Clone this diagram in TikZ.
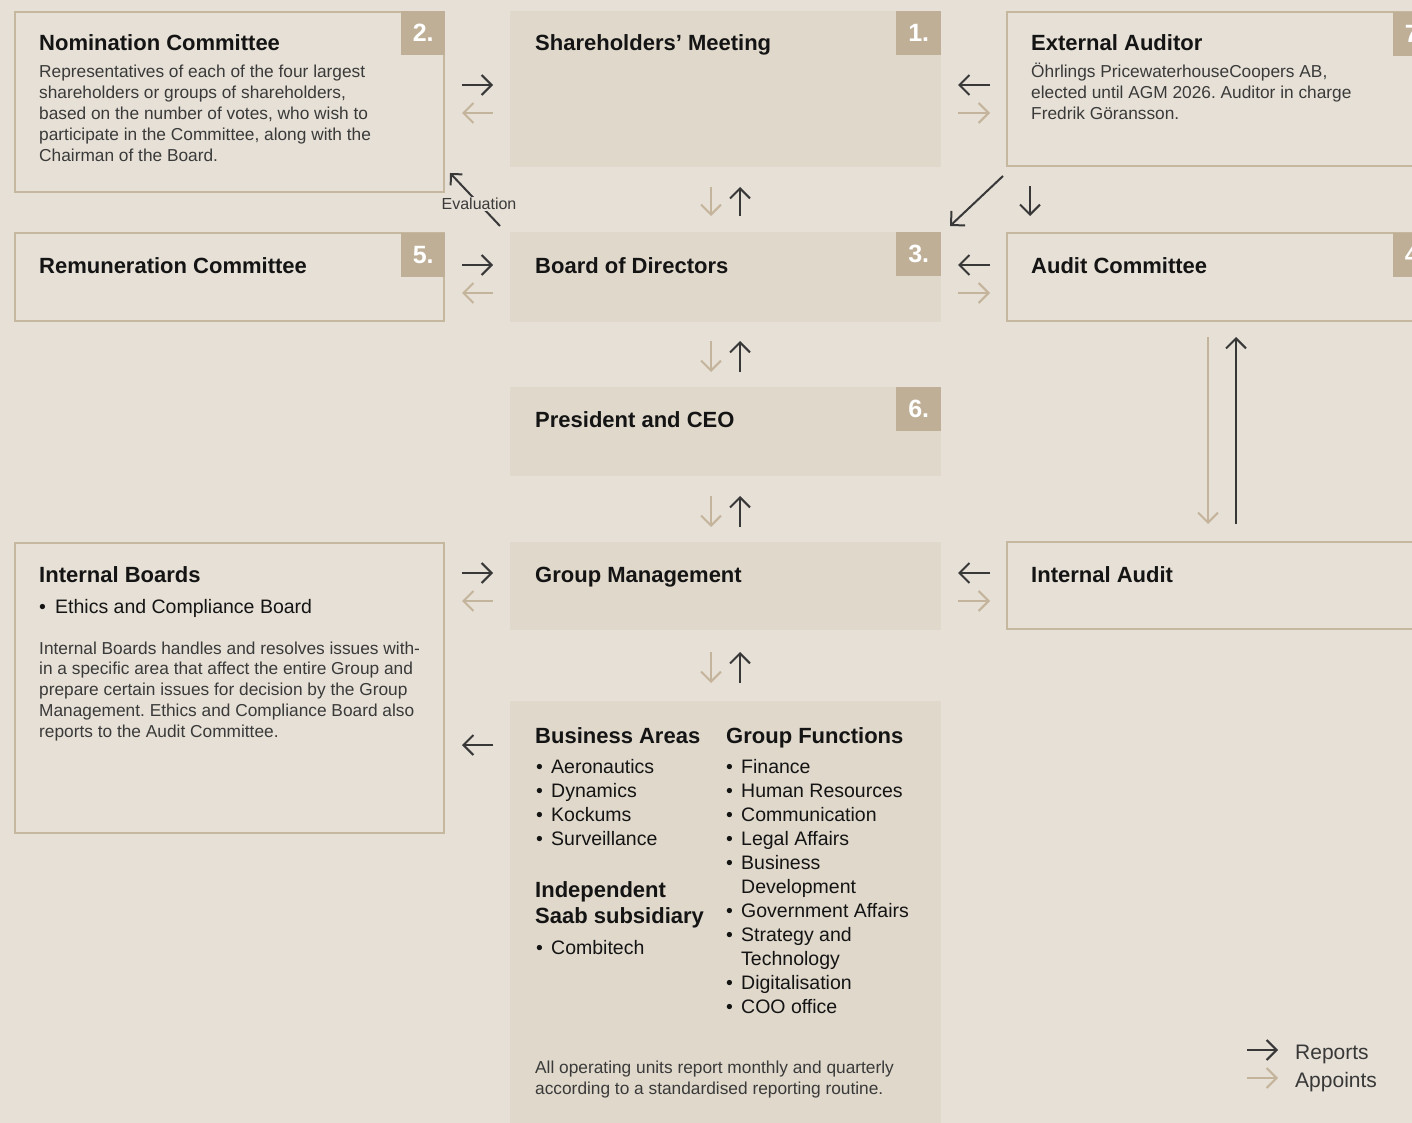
\documentclass[tikz,border=0pt]{standalone}
\usepackage{fontspec}
\setmainfont{Liberation Sans}
\usetikzlibrary{arrows.meta}
\definecolor{bgc}{HTML}{E6E0D6}
\definecolor{cfill}{HTML}{DFD8CB}
\definecolor{bordc}{HTML}{C6B79F}
\definecolor{badgec}{HTML}{BFAF97}
\definecolor{darkc}{HTML}{383838}
\definecolor{tanc}{HTML}{C4B49B}
\definecolor{txtc}{HTML}{141414}
\definecolor{bodyc}{HTML}{3A3A3A}
\frenchspacing
\begin{document}
\begin{tikzpicture}[x=1pt,y=-1pt,
 outbox/.style={draw=bordc, line width=2pt, fill=bgc, anchor=north west, inner sep=0pt, outer sep=0pt},
 cbox/.style={fill=cfill, anchor=north west, inner sep=0pt, outer sep=0pt},
 badge/.style={fill=badgec, anchor=north west, minimum width=44pt, minimum height=44pt, inner sep=0pt, text=white, font=\fontsize{25}{25}\selectfont\bfseries},
 ttl/.style={anchor=base west, inner sep=0pt, text=txtc, font=\fontsize{22}{26}\selectfont\bfseries},
 bodyt/.style={anchor=base west, inner sep=0pt, text=bodyc, font=\fontsize{17.3}{21}\selectfont},
 itemt/.style={anchor=base west, inner sep=0pt, text=txtc, font=\fontsize{19.5}{24}\selectfont},
 rep/.style={draw=darkc, line width=2pt, -{Straight Barb[length=10pt,width=20pt]}},
 app/.style={draw=tanc, line width=2pt, -{Straight Barb[length=10pt,width=20pt]}},
]
\clip (0,0) rectangle (1412,1123);
\fill[bgc] (0,0) rectangle (1412,1123);

% ---------- boxes ----------
\node[outbox, minimum width=429pt, minimum height=180pt] (nom) at (15,12) {};
\node[cbox, minimum width=431pt, minimum height=156pt] (sm) at (510,11) {};
\node[outbox, minimum width=430pt, minimum height=154pt] (ext) at (1007,12) {};
\node[outbox, minimum width=429pt, minimum height=88pt] (rem) at (15,233) {};
\node[cbox, minimum width=431pt, minimum height=90pt] (bod) at (510,232) {};
\node[outbox, minimum width=430pt, minimum height=88pt] (ac) at (1007,233) {};
\node[cbox, minimum width=431pt, minimum height=89pt] (ceo) at (510,387) {};
\node[outbox, minimum width=429pt, minimum height=290pt] (ib) at (15,543) {};
\node[cbox, minimum width=431pt, minimum height=88pt] (gm) at (510,542) {};
\node[outbox, minimum width=430pt, minimum height=87pt] (ia) at (1007,542) {};
\node[cbox, minimum width=431pt, minimum height=440pt] (ops) at (510,701) {};

% ---------- badges ----------
\node[badge] (b2) at (401,11) {2.};
\node[badge, minimum width=45pt] (b1) at (896,11) {1.};
\node[badge] (b7) at (1393,12) {7.};
\node[badge] (b5) at (401,233) {5.};
\node[badge, minimum width=45pt] (b3) at (896,232) {3.};
\node[badge] (b4) at (1393,233) {4.};
\node[badge, minimum width=45pt] (b6) at (896,387) {6.};

% ---------- titles ----------
\node[ttl] (tnom) at (39,51) {Nomination Committee};
\node[ttl] (tsm) at (535,51) {Shareholders’ Meeting};
\node[ttl] (text) at (1031,51) {External Auditor};
\node[ttl] (trem) at (39,273) {Remuneration Committee};
\node[ttl] (tbod) at (535,273) {Board of Directors};
\node[ttl] (tac) at (1031,273) {Audit Committee};
\node[ttl] (tceo) at (535,427) {President and CEO};
\node[ttl] (tib) at (39,582) {Internal Boards};
\node[ttl] (tgm) at (535,582) {Group Management};
\node[ttl] (tia) at (1031,582) {Internal Audit};

% ---------- body texts ----------
\foreach \t [count=\i] in {Representatives of each of the four largest,
  {shareholders or groups of shareholders,},
  {based on the number of votes, who wish to},
  {participate in the Committee, along with the},
  Chairman of the Board.}
  \node[bodyt] (nomb\i) at (39,{78+21*(\i-1)}) {\t};

\foreach \t [count=\i] in {{Öhrlings PricewaterhouseCoopers AB,},
  elected until AGM 2026. Auditor in charge,
  Fredrik Göransson.}
  \node[bodyt] (extb\i) at (1031,{78+21*(\i-1)}) {\t};

\node[itemt] (ibbul) at (39,613) {\textbullet};
\node[itemt] (ibit) at (55,613) {Ethics and Compliance Board};
\foreach \t [count=\i] in {Internal Boards handles and resolves issues with-,
  in a specific area that affect the entire Group and,
  prepare certain issues for decision by the Group,
  Management. Ethics and Compliance Board also,
  reports to the Audit Committee.}
  \node[bodyt] (ibb\i) at (39,{654+20.8*(\i-1)}) {\t};

% ---------- operations box ----------
\node[ttl] (tba) at (535,743) {Business Areas};
\node[ttl] (tgf) at (726,743) {Group Functions};
\foreach \t [count=\i] in {Aeronautics, Dynamics, Kockums, Surveillance}{
  \node[itemt] (bab\i) at (536,{773+24*(\i-1)}) {\textbullet};
  \node[itemt] (ba\i) at (551,{773+24*(\i-1)}) {\t};
}
\node[ttl] (tind1) at (535,897) {Independent};
\node[ttl] (tind2) at (535,923) {Saab subsidiary};
\node[itemt] (cbb) at (536,954) {\textbullet};
\node[itemt] (cb) at (551,954) {Combitech};

\foreach \t/\b [count=\i] in {Finance/1, Human Resources/1, Communication/1, Legal Affairs/1,
  Business/1, Development/0, Government Affairs/1, Strategy and/1, Technology/0,
  Digitalisation/1, COO office/1}{
  \node[itemt] (gf\i) at (741,{773+24*(\i-1)}) {\t};
  \ifnum\b=1 \node[itemt] (gfb\i) at (726,{773+24*(\i-1)}) {\textbullet};\fi
}
\node[bodyt] (foot1) at (535,1073) {All operating units report monthly and quarterly};
\node[bodyt] (foot2) at (535,1094) {according to a standardised reporting routine.};

% ---------- horizontal arrows, left column ----------
\foreach \y in {85,265,573}{
  \draw[rep] (462,\y) -- (493,\y);
  \draw[app] (493,\y+28) -- (462,\y+28);
}
\draw[rep] (493,745) -- (462,745);
% ---------- horizontal arrows, right column ----------
\foreach \y in {85,265,573}{
  \draw[rep] (990,\y) -- (958,\y);
  \draw[app] (958,\y+28) -- (990,\y+28);
}
% ---------- vertical arrow pairs ----------
\foreach \a/\b in {187/216, 341/372, 496/527, 652/683}{
  \draw[app] (711,\a) -- (711,\b);
  \draw[rep] (740,\b) -- (740,\a);
}
% ---------- external auditor ----------
\draw[rep] (1003,176) -- (950,226);
\draw[rep] (1030,186) -- (1030,216);
% ---------- audit committee <-> internal audit ----------
\draw[app] (1208,337) -- (1208,524);
\draw[rep] (1236,524) -- (1236,337);
% ---------- evaluation ----------
\draw[draw=darkc, line width=2pt, -{Straight Barb[length=8pt,width=16pt]}] (500,226) -- (450,173);
\node[fill=bgc, inner sep=1.5pt, text=bodyc, font=\fontsize{16}{18}\selectfont] (ev) at (479,204) {Evaluation};

% ---------- legend ----------
\draw[rep] (1247,1050) -- (1278,1050);
\draw[app] (1247,1078) -- (1278,1078);
\node[anchor=base west, inner sep=0pt, text=darkc, font=\fontsize{21}{24}\selectfont] (lrep) at (1295,1059) {Reports};
\node[anchor=base west, inner sep=0pt, text=darkc, font=\fontsize{21}{24}\selectfont] (lapp) at (1295,1087) {Appoints};
\end{tikzpicture}
\end{document}
